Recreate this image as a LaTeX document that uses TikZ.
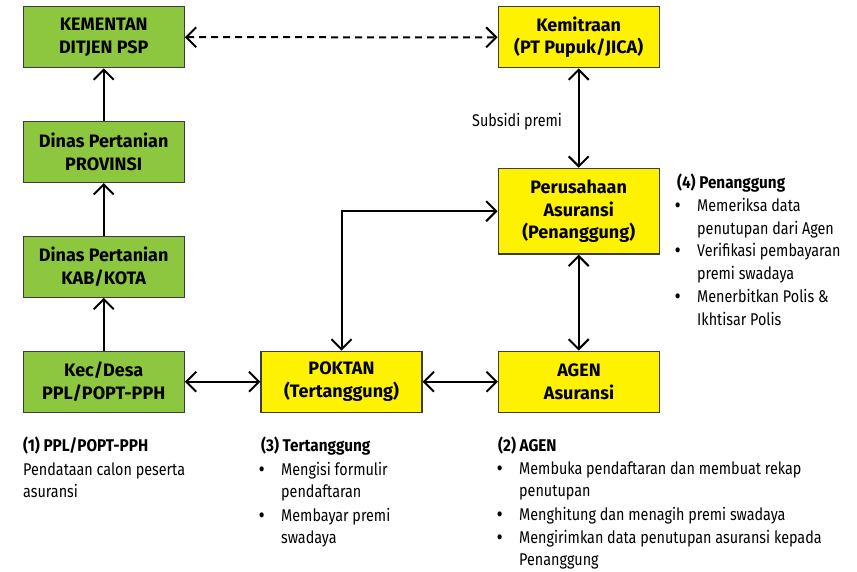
\documentclass[tikz,border=0pt]{standalone}
\usepackage{fontspec}
\setmainfont[FakeStretch=0.845]{Fira Sans}
\newfontfamily\boxfont[FakeStretch=1.0]{Fira Sans}
\newfontfamily\hdrfont[FakeStretch=0.9]{Fira Sans}
\usetikzlibrary{arrows.meta}
\definecolor{boxgreen}{RGB}{141,198,63}
\definecolor{boxyellow}{RGB}{255,242,0}
\definecolor{boxline}{RGB}{60,60,60}
\begin{document}
\begin{tikzpicture}[x=1pt,y=-1pt,
  >={Straight Barb[length=10pt,width=20pt]},
  box/.style={draw=boxline, line width=1.2pt, minimum width=161pt, minimum height=61pt, inner sep=0pt, align=center, font=\boxfont\fontsize{18}{22.6}\selectfont\bfseries},
  gbox/.style={box, fill=boxgreen},
  ybox/.style={box, fill=boxyellow},
  conn/.style={line width=2pt, black},
  txt/.style={anchor=base west, inner sep=0pt, font=\fontsize{17}{20}\selectfont},
  hdr/.style={txt, font=\hdrfont\fontsize{17}{20}\selectfont\bfseries},
  bul/.style={txt, font=\fontsize{18}{20}\selectfont\bfseries},
]
\useasboundingbox (0,0) rectangle (857,571);
% boxes
\node[gbox] (kem) at (103.7,37.2) {KEMENTAN\\DITJEN PSP};
\node[gbox] (prov) at (103.7,152) {Dinas Pertanian\\PROVINSI};
\node[gbox] (kab) at (103.7,266.7) {Dinas Pertanian\\KAB/KOTA};
\node[gbox] (kec) at (103.7,381.7) {Kec/Desa\\PPL/POPT-PPH};
\node[ybox] (pok) at (341.5,381.7) {POKTAN\\(Tertanggung)};
\node[ybox] (agen) at (579,381.7) {AGEN\\Asuransi};
\node[ybox, minimum height=85.7pt] (pers) at (578.7,211.2) {Perusahaan\\Asuransi\\(Penanggung)};
\node[ybox] (mitra) at (578.7,37.3) {Kemitraan\\(PT Pupuk/JICA)};
% connectors
\draw[conn,->] (prov) -- (kem);
\draw[conn,->] (kab) -- (prov);
\draw[conn,->] (kec) -- (kab);
\draw[conn,<->] (kec) -- (pok);
\draw[conn,<->] (pok) -- (agen);
\draw[conn,<->] (pers.south) -- (pers.south |- agen.north);
\draw[conn,<->] (mitra.south) -- (mitra.south |- pers.north);
\draw[conn,<->] (pok.north) |- (pers.west);
\draw[conn,<->,dash pattern=on 7pt off 5pt] (kem) -- (mitra);
\node[txt] (sub) at (472,126) {Subsidi premi};
% (1)
\node[hdr] (h1) at (23,451) {(1) PPL/POPT-PPH};
\node[txt] (t1a) at (23,475) {Pendataan calon peserta};
\node[txt] (t1b) at (23,497) {asuransi};
% (3)
\node[hdr] (h3) at (261,451) {(3) Tertanggung};
\node[bul] (b3a) at (259,475) {•};
\node[txt] (t3a) at (281,475) {Mengisi formulir};
\node[txt] (t3b) at (281,497) {pendaftaran};
\node[bul] (b3b) at (259,521) {•};
\node[txt] (t3c) at (281,521) {Membayar premi};
\node[txt] (t3d) at (281,543) {swadaya};
% (2)
\node[hdr] (h2) at (498,451.5) {(2) AGEN};
\node[bul] (b2a) at (497,474) {•};
\node[txt] (t2a) at (519,474) {Membuka pendaftaran dan membuat rekap};
\node[txt] (t2b) at (519,496.7) {penutupan};
\node[bul] (b2b) at (497,520) {•};
\node[txt] (t2c) at (519,520) {Menghitung dan menagih premi swadaya};
\node[bul] (b2c) at (497,543) {•};
\node[txt] (t2d) at (519,543) {Mengirimkan data penutupan asuransi kepada};
\node[txt] (t2e) at (519,565) {Penanggung};
% (4)
\node[hdr] (h4) at (677,188.3) {(4) Penanggung};
\node[bul] (b4a) at (675,211) {•};
\node[txt] (t4a) at (697,211) {Memeriksa data};
\node[txt] (t4b) at (697,234) {penutupan dari Agen};
\node[bul] (b4b) at (675,256.7) {•};
\node[txt] (t4c) at (697,256.7) {Verifikasi pembayaran};
\node[txt] (t4d) at (697,279) {premi swadaya};
\node[bul] (b4c) at (675,302) {•};
\node[txt] (t4e) at (697,302) {Menerbitkan Polis \&};
\node[txt] (t4f) at (697,325.7) {Ikhtisar Polis};
\end{tikzpicture}
\end{document}
